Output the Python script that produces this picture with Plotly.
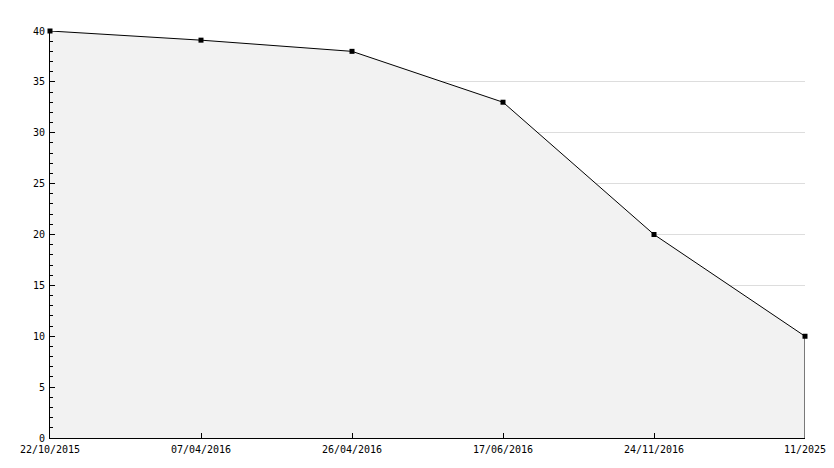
import plotly.graph_objects as go

dates = ["22/10/2015", "07/04/2016", "26/04/2016", "17/06/2016", "24/11/2016", "11/2025"]
values = [40, 39.1, 38, 33, 20, 10]
y_ticks = [0, 5, 10, 15, 20, 25, 30, 35, 40]

FONT = dict(family="DejaVu Sans Mono", size=10, color="#000000")

fig = go.Figure()
fig.add_trace(go.Scatter(
    x=dates, y=values, mode="lines+markers", fill="tozeroy",
    fillcolor="#f2f2f2", line=dict(color="#000000", width=1),
    marker=dict(symbol="square", size=5, color="#000000"),
    cliponaxis=False, showlegend=False, hoverinfo="x+y",
))
# closing edge of the area at the last point
fig.add_trace(go.Scatter(
    x=[dates[-1], dates[-1]], y=[0, values[-1]], mode="lines",
    line=dict(color="#000000", width=1), cliponaxis=False,
    showlegend=False, hoverinfo="skip",
))

# page body has an 8px margin; compensate so the plot area lands where the reference has it
fig.update_layout(
    width=834, height=468,
    margin=dict(l=42, r=37, t=23, b=38, autoexpand=False),
    paper_bgcolor="white", plot_bgcolor="white",
    font=FONT,
    xaxis=dict(
        type="category", range=[0, len(dates) - 1], automargin=False,
        showline=True, linecolor="#000000", linewidth=1,
        ticks="inside", ticklen=5, tickcolor="#000000",
        showgrid=False, zeroline=False, tickfont=FONT, ticklabelstandoff=2,
    ),
    yaxis=dict(
        range=[0, 40], tickvals=y_ticks, ticktext=[str(v) for v in y_ticks],
        automargin=False,
        showline=True, linecolor="#000000", linewidth=1,
        ticks="inside", ticklen=5, tickcolor="#000000",
        showgrid=True, gridcolor="#dddddd", gridwidth=1,
        zeroline=False, tickfont=FONT, ticklabelstandoff=2,
        minor=dict(ticks="inside", ticklen=3, dtick=1, tickcolor="#000000", showgrid=False),
    ),
)
fig.write_html("out.html")
